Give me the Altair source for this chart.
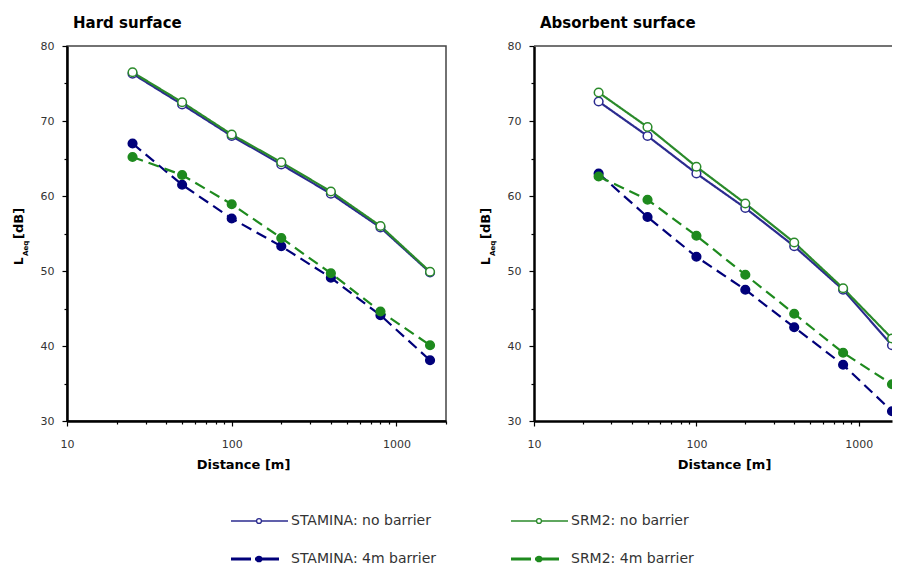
import altair as alt
import pandas as pd

# ---------------- data ----------------
distances = [25, 50, 100, 200, 400, 800, 1600]
series_names = ["STAMINA: no barrier", "SRM2: no barrier", "STAMINA: 4m barrier", "SRM2: 4m barrier"]
series_colors = ["#2b2b8f", "#2a8a2a", "#00007a", "#1e8a1e"]
point_fills = ["white", "white", "#00007a", "#1e8a1e"]

hard_stamina_none = [76.3, 72.2, 68.0, 64.2, 60.3, 55.8, 49.8]
hard_srm2_none = [76.5, 72.5, 68.2, 64.5, 60.6, 56.0, 49.9]
hard_stamina_4m = [67.0, 61.5, 57.0, 53.3, 49.1, 44.1, 38.1]
hard_srm2_4m = [65.2, 62.8, 58.9, 54.4, 49.7, 44.6, 40.1]

abs_stamina_none = [72.6, 68.0, 63.0, 58.4, 53.3, 47.5, 40.1]
abs_srm2_none = [73.8, 69.2, 63.9, 59.0, 53.8, 47.7, 41.0]
abs_stamina_4m = [63.0, 57.2, 51.9, 47.5, 42.5, 37.5, 31.3]
abs_srm2_4m = [62.6, 59.5, 54.7, 49.5, 44.3, 39.1, 34.9]

x_ticks_left = [10, 20, 30, 40, 50, 60, 70, 80, 90, 100, 200, 300, 400, 500, 600, 700, 800, 900, 1000, 2000]
x_ticks_right = [10, 20, 30, 40, 50, 60, 70, 80, 90, 100, 200, 300, 400, 500, 600, 700, 800, 900, 1000]
y_ticks = [30, 35, 40, 45, 50, 55, 60, 65, 70, 75, 80]

FONT = "DejaVu Sans"
FRAME = "#444444"


def long_df(values_list):
    rows = []
    for name, vals in zip(series_names, values_list):
        for d, v in zip(distances, vals):
            rows.append({"series": name, "distance": d, "level": v})
    return pd.DataFrame(rows)


hard_df = long_df([hard_stamina_none, hard_srm2_none, hard_stamina_4m, hard_srm2_4m])
abs_df = long_df([abs_stamina_none, abs_srm2_none, abs_stamina_4m, abs_srm2_4m])

color_scale = alt.Scale(domain=series_names, range=series_colors)
fill_scale = alt.Scale(domain=series_names, range=point_fills)
dash_scale = alt.Scale(domain=series_names, range=[[1, 0], [1, 0], [11, 6], [11, 6]])
width_scale = alt.Scale(domain=series_names, range=[2.2, 2.2, 2.5, 2.5])
size_scale = alt.Scale(domain=series_names, range=[75, 75, 80, 80])

MAJOR_X = "datum.value == 10 || datum.value == 100 || datum.value == 1000"


def x_axis(values, title_x):
    return alt.Axis(
        values=values,
        title="Distance [m]",
        labelExpr=MAJOR_X + " ? format(datum.value, 'd') : ''",
        tickSize={"condition": {"test": MAJOR_X, "value": 5}, "value": 3},
        labelPadding=12,
        labelFlush=False,
        titlePadding=9,
        titleX=title_x,
        titleAlign="center",
    )


y_axis = alt.Axis(
    values=y_ticks,
    title=None,
    labelExpr="datum.value % 10 == 0 ? datum.label : ''",
    tickSize={"condition": {"test": "datum.value % 10 == 0", "value": 5}, "value": 3},
    labelPadding=8,
    labelFlush=False,
)


def one_row():
    return alt.Chart(alt.Data(values=[{"a": 1}]))


def ytitle_layer(text, x, y, size):
    return one_row().mark_text(
        text=text, angle=270, align="left", baseline="middle",
        font=FONT, fontSize=size, fontWeight="bold", color="black",
    ).encode(x=alt.value(x), y=alt.value(y))


def panel(df, title, width, x_max, x_values, title_x, right_side):
    base = alt.Chart(df)
    x = alt.X("distance:Q", scale=alt.Scale(type="log", domain=[10, x_max], nice=False),
              axis=x_axis(x_values, title_x))
    y = alt.Y("level:Q", scale=alt.Scale(domain=[30, 80], nice=False, zero=False), axis=y_axis)
    lines = base.mark_line(clip=True).encode(
        x=x, y=y,
        color=alt.Color("series:N", scale=color_scale, legend=None),
        strokeDash=alt.StrokeDash("series:N", scale=dash_scale, legend=None),
        strokeWidth=alt.StrokeWidth("series:N", scale=width_scale, legend=None),
    )
    points = base.mark_point(shape="circle", opacity=1, fillOpacity=1, strokeWidth=1.5, clip=True).encode(
        x=x, y=y,
        stroke=alt.Stroke("series:N", scale=color_scale, legend=None),
        fill=alt.Fill("series:N", scale=fill_scale, legend=None),
        size=alt.Size("series:N", scale=size_scale, legend=None),
    )
    t1 = ytitle_layer("L", -48.5, 219, 12)
    t2 = ytitle_layer("Aeq", -41, 210, 7)
    t3 = ytitle_layer("[dB]", -48.5, 193, 13)
    layers = [lines, points, t1, t2, t3]
    props = dict(
        width=width, height=375,
        title=alt.TitleParams(
            text=title, anchor="start", frame="group", offset=-3, dx=6,
            font=FONT, fontSize=15, fontWeight="bold", color="black", baseline="alphabetic",
        ),
    )
    if right_side:
        top_border = one_row().mark_rule(color=FRAME, strokeWidth=1.5).encode(
            x=alt.value(0), x2=alt.value(width), y=alt.value(0)
        )
        layers.append(top_border)
        props["view"] = alt.ViewBackground(stroke="transparent")
    return alt.layer(*layers).properties(**props)


left = panel(hard_df, "Hard surface", 379, 2000, x_ticks_left, 176, False)
right = panel(abs_df, "Absorbent surface", 358, 1600, x_ticks_right, 190, True)

# ---------------- legend ----------------
leg_df = pd.DataFrame({"series": series_names})
leg_base = alt.Chart(leg_df).transform_calculate(
    col="indexof(datum.series, 'SRM2') >= 0 ? 1 : 0",
    row="indexof(datum.series, '4m') >= 0 ? 1 : 0",
).transform_calculate(
    x0="164 + datum.col * 280",
    x1="164 + datum.col * 280 + 57",
    xc="164 + datum.col * 280 + 28",
    xt="164 + datum.col * 280 + 60",
)
lx = alt.Scale(domain=[0, 700], range=[0, 700])
ly = alt.Scale(domain=[0, 1], range=[42, 80])
leg_color = alt.Color("series:N", scale=color_scale, legend=None)

rule_solid = leg_base.transform_filter("datum.row == 0").mark_rule(strokeWidth=1.6).encode(
    x=alt.X("x0:Q", scale=lx, axis=None), x2="x1:Q",
    y=alt.Y("row:Q", scale=ly, axis=None), color=leg_color,
)
rule_dash = leg_base.transform_filter("datum.row == 1").mark_rule(strokeWidth=3, strokeDash=[20, 4, 24, 12]).encode(
    x=alt.X("x0:Q", scale=lx, axis=None), x2="x1:Q",
    y=alt.Y("row:Q", scale=ly, axis=None), color=leg_color,
)
pt_open = leg_base.transform_filter("datum.row == 0").mark_point(
    shape="circle", filled=False, fill="white", opacity=1, size=24, strokeWidth=1.3
).encode(
    x=alt.X("xc:Q", scale=lx, axis=None), y=alt.Y("row:Q", scale=ly, axis=None),
    stroke=alt.Stroke("series:N", scale=color_scale, legend=None),
)
pt_fill = leg_base.transform_filter("datum.row == 1").mark_point(
    shape="circle", filled=True, opacity=1, size=45
).encode(
    x=alt.X("xc:Q", scale=lx, axis=None), y=alt.Y("row:Q", scale=ly, axis=None),
    color=leg_color,
)
leg_text = leg_base.mark_text(align="left", baseline="middle", font=FONT, fontSize=14, color="#333").encode(
    x=alt.X("xt:Q", scale=lx, axis=None), y=alt.Y("row:Q", scale=ly, axis=None),
    text="series:N",
)
legend = alt.layer(rule_solid, rule_dash, pt_open, pt_fill, leg_text).properties(
    width=700, height=86, view=alt.ViewBackground(stroke="transparent")
)

chart = alt.vconcat(
    alt.hconcat(left, right, spacing=30),
    legend,
    spacing=6,
).properties(
    padding={"left": 3, "top": 7, "right": 0, "bottom": 0},
    background="white",
).configure_view(
    stroke=FRAME, strokeWidth=1.5
).configure_axis(
    labelFont=FONT, labelFontSize=11, labelColor="#333",
    titleFont=FONT, titleFontSize=13, titleFontWeight="bold", titleColor="black",
    domainColor="black", domainWidth=2.5, tickColor="black", tickWidth=1.2, grid=False,
)

chart.save("out.html", embed_options={"renderer": "svg", "actions": False})
